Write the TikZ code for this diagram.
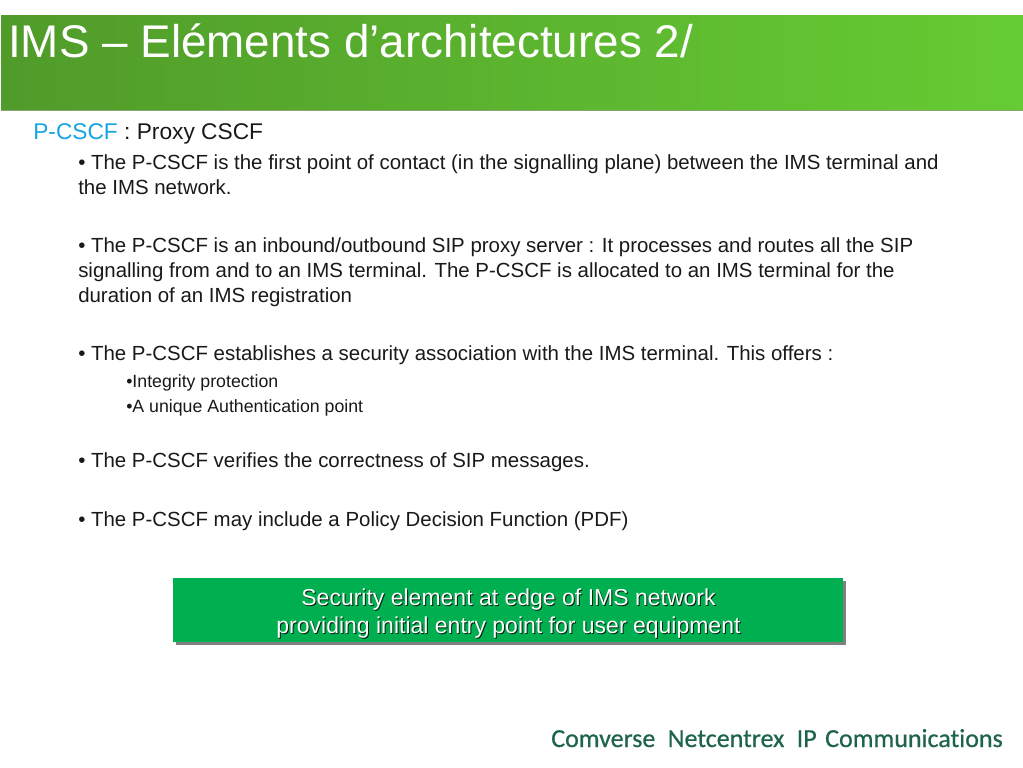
\documentclass[tikz,border=0pt]{standalone}
\usepackage{fontspec}
\setmainfont{Liberation Sans}
\newfontfamily\logofont[Ligatures=NoCommon, FakeBold=0.6]{Carlito}
\definecolor{bandleft}{RGB}{80, 155, 42}
\definecolor{bandright}{RGB}{102, 204, 51}
\definecolor{bandedge}{RGB}{135, 165, 110}
\definecolor{pcscfblue}{RGB}{20, 165, 225}
\definecolor{boxgreen}{RGB}{0, 175, 80}
\definecolor{logogreen}{RGB}{30, 100, 75}
\usetikzlibrary{positioning}

\begin{document}
\begin{tikzpicture}[
  x=0.75pt, y=-0.75pt,
  txt/.style={anchor=base west, inner sep=0pt, align=left, text=black!90, font=\fontsize{15.33}{18.45}\selectfont},
  sub/.style={txt, font=\fontsize{13.3}{15}\selectfont},
  boxtxt/.style={inner sep=0pt, align=center, font=\fontsize{17.25}{20.8}\selectfont},
]
  \useasboundingbox (0, 0) rectangle (1023, 767);

  % title band
  \fill[left color=bandleft, right color=bandright] (1, 16) rectangle (1023, 110);
  \fill[bandedge] (1, 109.5) rectangle (1023, 111);
  \node[anchor=base west, inner sep=0pt, text=white, font=\fontsize{34.35}{36}\selectfont] (title) at (8, 58) {IMS – Eléments d’architectures 2/};

  \node[txt, font=\fontsize{17.05}{18}\selectfont] (head) at (33, 139) {\textcolor{pcscfblue}{P-CSCF} : Proxy CSCF};
  \node[txt] (first) at (78, 194) {• The P-CSCF is the first point of contact (in the signalling plane) between the IMS terminal and\\the IMS network.};
  \node[txt] (second) at (78, 302) {• The P-CSCF is an inbound/outbound SIP proxy server : It processes and routes all the SIP\\signalling from and to an IMS terminal. The P-CSCF is allocated to an IMS terminal for the\\duration of an IMS registration};
  \node[txt] (third) at (78, 360) {• The P-CSCF establishes a security association with the IMS terminal. This offers :};
  \node[sub] (integrity) at (126, 387) {•Integrity protection};
  \node[sub] (auth) at (126, 412) {•A unique Authentication point};
  \node[txt] (fourth) at (78, 467) {• The P-CSCF verifies the correctness of SIP messages.};
  \node[txt] (fifth) at (78, 526) {• The P-CSCF may include a Policy Decision Function (PDF)};

  % green box with shadow
  \fill[black!50] (176, 581) rectangle (846, 645);
  \fill[boxgreen] (173, 578) rectangle (843, 642);
  \node[boxtxt, text=black!80!boxgreen] (boxshade) at (509.5, 614.5) {Security element at edge of IMS network\\providing initial entry point for user equipment};
  \node[boxtxt, text=white] (boxlabel) at (508.5, 613.5) {Security element at edge of IMS network\\providing initial entry point for user equipment};

  \node[anchor=base west, inner sep=0pt, text=logogreen, font=\logofont\fontsize{19.5}{24}\selectfont] (logo) at (551, 747) {Comverse\hspace{0.25em} Netcentrex\hspace{0.25em} IP\hspace{0.1em} Communications};
\end{tikzpicture}
\end{document}
